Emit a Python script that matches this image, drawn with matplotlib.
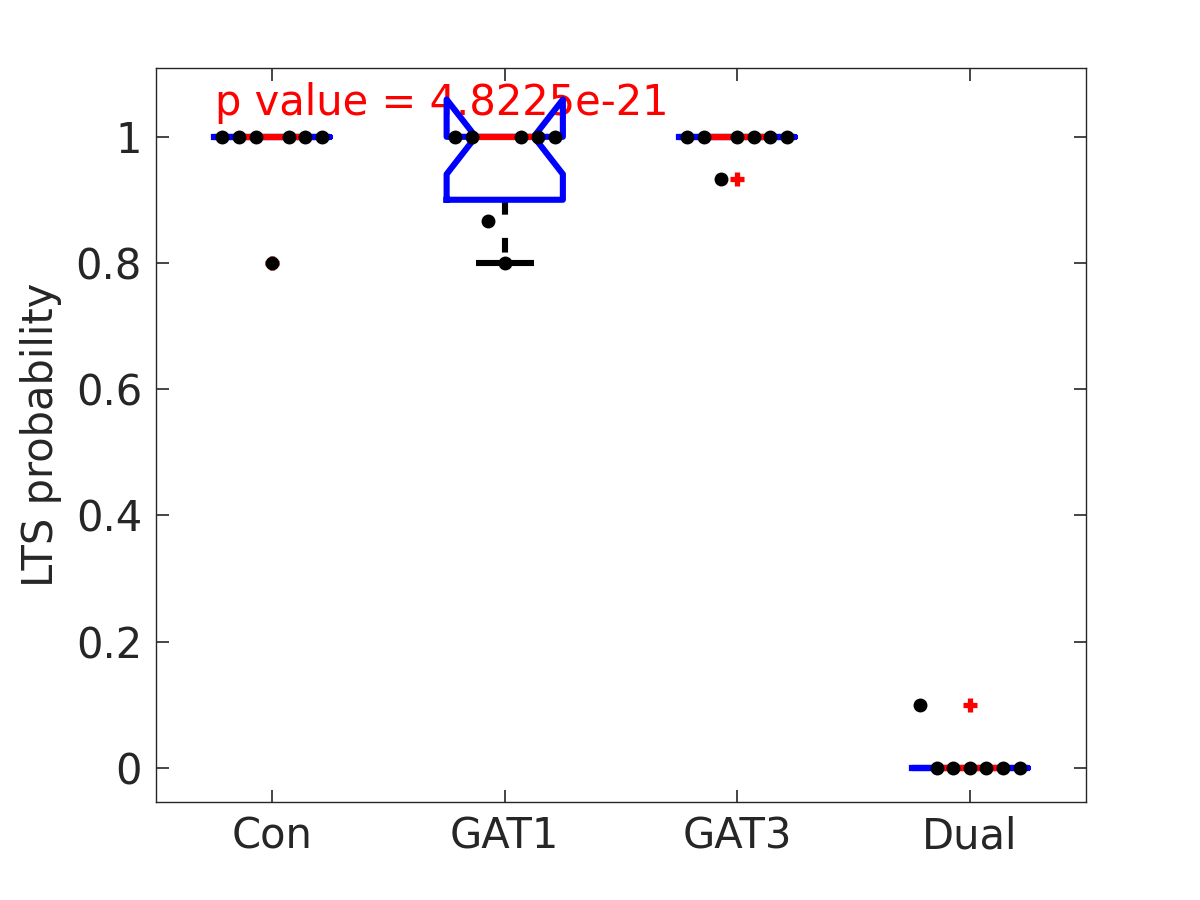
import numpy as np
import matplotlib
matplotlib.use("Agg")
import matplotlib.pyplot as plt

# ---- data ----
categories = ["Con", "GAT1", "GAT3", "Dual"]
con_vals = [1.0, 1.0, 1.0, 0.8, 1.0, 1.0, 1.0]
gat1_vals = [1.0, 1.0, 0.867, 0.8, 1.0, 1.0, 1.0]
gat3_vals = [1.0, 1.0, 0.933, 1.0, 1.0, 1.0, 1.0]
dual_vals = [0.1, 0.0, 0.0, 0.0, 0.0, 0.0, 0.0]
jitter = [-0.215, -0.143, -0.072, 0.0, 0.072, 0.143, 0.215]
yticks = [0, 0.2, 0.4, 0.6, 0.8, 1]
ytick_labels = ["0", "0.2", "0.4", "0.6", "0.8", "1"]
p_text = "p value = 4.8225e-21"

groups = [con_vals, gat1_vals, gat3_vals, dual_vals]
positions = np.arange(1, len(categories) + 1)

TXT = "#262626"
plt.rcParams['font.family'] = ['DejaVu Sans']

fig = plt.figure(figsize=(12, 9), dpi=100)
ax = fig.add_axes([0.13, 0.109, 0.775, 0.8154])


def stats_for(vals, label):
    v = np.asarray(vals, dtype=float)
    q1, med, q3 = np.percentile(v, [25, 50, 75], method="hazen")
    iqr = q3 - q1
    lo_lim, hi_lim = q1 - 1.5 * iqr, q3 + 1.5 * iqr
    inside = v[(v >= lo_lim) & (v <= hi_lim)]
    n = len(v)
    return dict(label=label, med=med, q1=q1, q3=q3, iqr=iqr,
                whislo=inside.min(), whishi=inside.max(),
                fliers=v[(v < lo_lim) | (v > hi_lim)],
                cilo=med - 1.57 * iqr / np.sqrt(n),
                cihi=med + 1.57 * iqr / np.sqrt(n))


stats = [stats_for(g, c) for g, c in zip(groups, categories)]

LW = 4.4
bp = ax.bxp(stats, positions=positions, widths=0.5, shownotches=True,
            boxprops=dict(color="blue", linewidth=LW, solid_joinstyle="round",
                          zorder=2.1),
            medianprops=dict(color="red", linewidth=LW, solid_capstyle="butt",
                             zorder=2.2),
            whiskerprops=dict(color="black", linewidth=LW,
                              linestyle=(0, (2.4, 3.8)), zorder=2),
            capprops=dict(color="black", linewidth=LW, solid_capstyle="butt",
                          zorder=2),
            flierprops=dict(marker="+", markeredgecolor="red",
                            markerfacecolor="red", markersize=10,
                            markeredgewidth=3.8, linestyle="none", zorder=2.3),
            capwidths=0.25)

# jittered raw points
for pos, vals in zip(positions, groups):
    xs = [pos + j for j in jitter[:len(vals)]]
    ax.plot(xs, vals, linestyle="none", marker="o", color="black",
            markersize=9, zorder=3)

ax.text(0.753, 1.034, p_text, color="red", fontsize=30, ha="left",
        va="baseline", zorder=1.5)

ax.set_xlim(0.5, 4.5)
ax.set_ylim(-0.054, 1.109)
ax.set_xticks(positions)
ax.set_xticklabels(categories)
ax.set_yticks(yticks)
ax.set_yticklabels(ytick_labels)
ax.set_ylabel("LTS probability", fontsize=30, color=TXT, labelpad=10)
ax.tick_params(axis="both", direction="in", length=9, width=1.2,
               labelsize=30, colors=TXT, top=True, right=True, pad=10)
for s in ax.spines.values():
    s.set_color(TXT)
    s.set_linewidth(1.0)

fig.savefig("out.png", dpi=100)
